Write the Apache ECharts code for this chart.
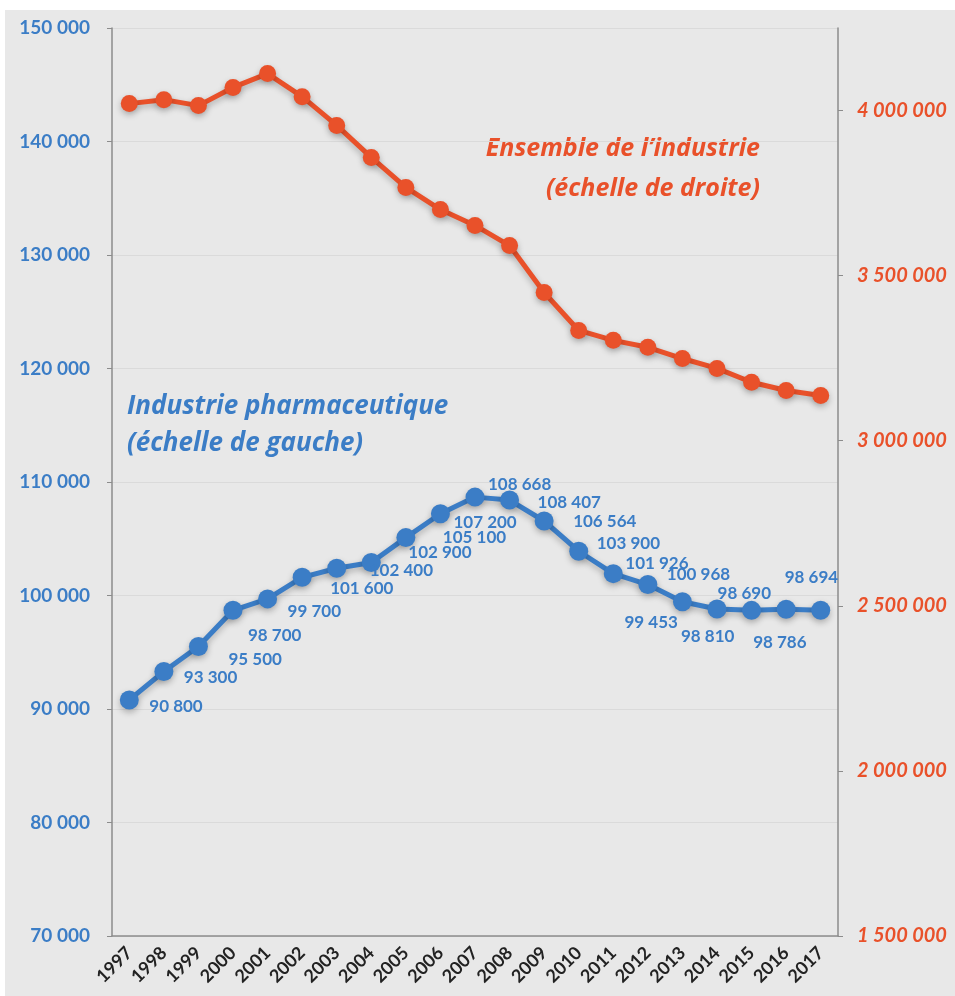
<!DOCTYPE html>
<html>
<head>
<meta charset="utf-8">
<script src="https://cdn.jsdelivr.net/npm/echarts@6/dist/echarts.min.js"></script>
<style>
html,body{margin:0;padding:0;background:#ffffff;}
#c{width:955px;height:996px;}
</style>
</head>
<body>
<div id="c"></div>
<script>
var years = ['1997','1998','1999','2000','2001','2002','2003','2004','2005','2006','2007','2008','2009','2010','2011','2012','2013','2014','2015','2016','2017'];
var pharma = [90800,93300,95500,98700,99700,101600,102400,102900,105100,107200,108668,108407,106564,103900,101926,100968,99453,98810,98690,98786,98694];
var industrie = [4021000,4033000,4015000,4070000,4112000,4042000,3955000,3858000,3767000,3700000,3652000,3591000,3449000,3334000,3304000,3283000,3249000,3219000,3177000,3152000,3137000];
var leftTicks = {min:70000, max:150000, interval:10000};
var rightTicks = {min:1500000, max:4250000, interval:500000};
// label offsets (left edge dx, center dy) relative to each point
var labelOffsets = [[20,7],[20,6],[30,13],[15,25],[20,13],[28,11],[33,2],[37,-10],[37,0],[13,9],[13,-13],[28,2],[29,1],[18,-8],[12,-10],[19,-10],[-58,21],[-36,28],[-34,-17],[-33,33],[-36,-33]];

function fmt(v){ return String(v).replace(/\B(?=(\d{3})+(?!\d))/g,' '); }

var BLUE = '#3b7dc6', RED = '#e9512a', BG = '#e8e8e8';
var chart = echarts.init(document.getElementById('c'));
chart.setOption({
  backgroundColor: '#ffffff',
  animation: false,
  grid: {left:112, right:117, top:28, bottom:60},
  xAxis: {
    type:'category', data: years, boundaryGap:true,
    axisLine:{lineStyle:{color:'#8c8c8c', width:1.5}},
    axisTick:{show:false},
    axisLabel:{rotate:45, margin:14, color:'#222', fontFamily:'Lato', fontWeight:'bold', fontSize:18, interval:0}
  },
  yAxis: [{
    type:'value', min:leftTicks.min, max:leftTicks.max, interval:leftTicks.interval, position:'left',
    axisLine:{show:true, lineStyle:{color:'#8c8c8c', width:1.5}},
    axisTick:{show:true, length:5, lineStyle:{color:'#8c8c8c'}},
    splitLine:{show:true, lineStyle:{color:'#dadada', width:1}},
    axisLabel:{margin:22, color:BLUE, fontFamily:'Lato', fontWeight:'bold', fontSize:19, formatter: fmt}
  },{
    type:'value', min:rightTicks.min, max:rightTicks.max, interval:rightTicks.interval, position:'right',
    axisLine:{show:true, lineStyle:{color:'#8c8c8c', width:1.5}},
    axisTick:{show:true, length:5, lineStyle:{color:'#8c8c8c'}},
    splitLine:{show:false},
    axisLabel:{margin:19, color:RED, fontFamily:'Lato', fontWeight:'bold', fontStyle:'italic', fontSize:20, formatter: function(v){ return v % 500000 === 0 ? fmt(v) : ''; }, showMaxLabel:false}
  }],
  series: [{
    name:'Ensemble de l\'industrie', type:'line', yAxisIndex:1, data: industrie,
    symbol:'circle', symbolSize:17,
    lineStyle:{color:RED, width:5, shadowColor:'rgba(0,0,0,0.25)', shadowBlur:6, shadowOffsetY:3},
    itemStyle:{color:RED, shadowColor:'rgba(0,0,0,0.25)', shadowBlur:6, shadowOffsetY:3},
    z:2
  },{
    name:'Industrie pharmaceutique', type:'line', yAxisIndex:0,
    data: pharma.map(function(v,i){
      return {value:v, label:{offset:labelOffsets[i]}};
    }),
    symbol:'circle', symbolSize:19,
    lineStyle:{color:BLUE, width:5, shadowColor:'rgba(0,0,0,0.25)', shadowBlur:6, shadowOffsetY:3},
    itemStyle:{color:BLUE, shadowColor:'rgba(0,0,0,0.25)', shadowBlur:6, shadowOffsetY:3},
    label:{show:true, position:'inside', align:'left', verticalAlign:'middle',
      color:BLUE, fontFamily:'Lato', fontWeight:'bold', fontSize:17,
      formatter:function(p){ return fmt(p.value); }},
    z:3
  }],
  graphic: [
    {type:'rect', left:5, top:10, z:-100, shape:{width:950, height:986}, style:{fill:BG}},
    {type:'text', right:195, top:136, style:{text:'Ensemble de l\u2019industrie', fill:RED, font:'italic bold 25px "Open Sans"', textAlign:'right'}},
    {type:'text', right:195, top:176, style:{text:'(échelle de droite)', fill:RED, font:'italic bold 25px "Open Sans"', textAlign:'right'}},
    {type:'text', left:127, top:394, style:{text:'Industrie pharmaceutique', fill:BLUE, font:'italic bold 26px "Open Sans"'}},
    {type:'text', left:127, top:431, style:{text:'(échelle de gauche)', fill:BLUE, font:'italic bold 26px "Open Sans"'}}
  ]
});
</script>
</body>
</html>
